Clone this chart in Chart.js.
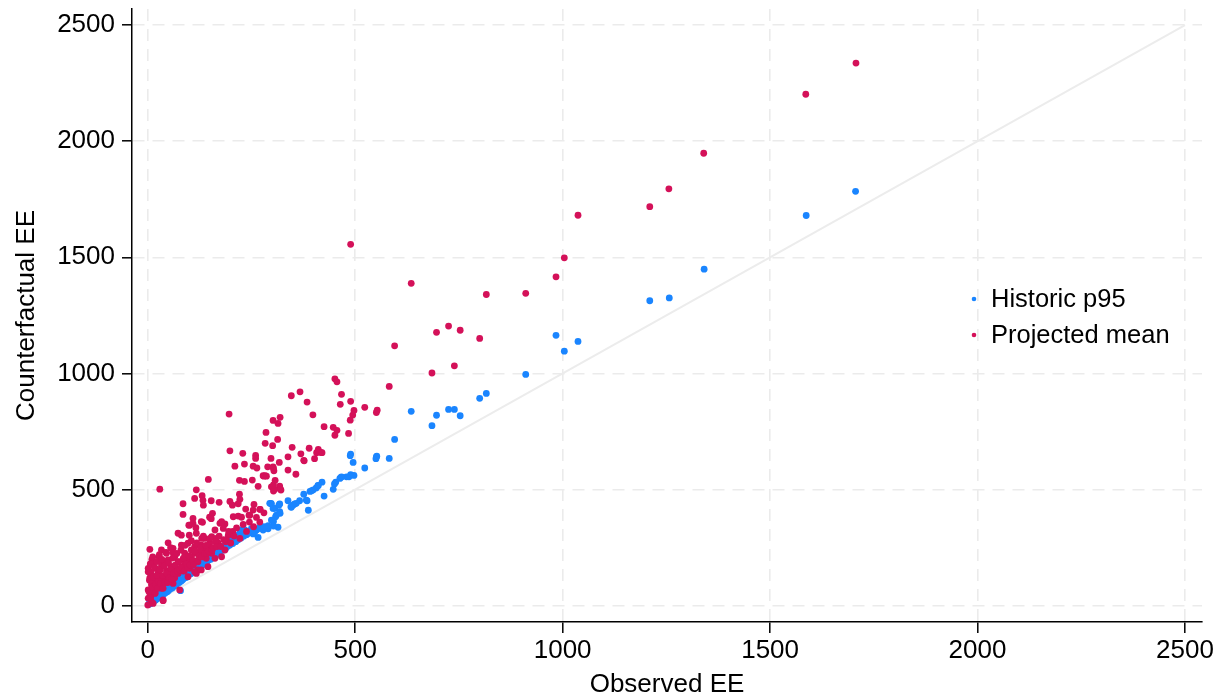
<!DOCTYPE html>
<html lang="en">
<head>
    <meta charset="UTF-8">
    <title>Counterfactual EE vs Observed EE</title>
    <style>
        html, body { margin: 0; padding: 0; background: #fff; }
        .chart-box { width: 1226px; height: 700px; }
    </style>
</head>
<body>

<div class="chart-box">
    <canvas id="eeChart" width="1226" height="700"></canvas>
</div>

<script src="https://cdn.jsdelivr.net/npm/chart.js@4/dist/chart.umd.min.js"></script>
<script>
    // ticks (same on both axes)
    const axisTicks = [0, 500, 1000, 1500, 2000, 2500];
    const seriesNames = ['Historic p95', 'Projected mean'];

    // Historic p95 : observed EE (x) / counterfactual EE (y)
    const histX = [1706, 1587, 1341, 1257, 1210, 1037, 984, 1004, 911, 816, 800, 753, 739, 725, 696, 685, 635, 595, 582, 552,
        550, 523, 495, 489, 488, 485, 489, 497, 466, 453, 450, 447, 425, 420, 410, 406, 399, 391, 384, 387,
        376, 366, 354, 346, 319, 308, 303, 297, 314, 303, 290, 278, 258, 254, 266, 463, 411, 395, 382, 358,
        350, 338, 345, 298, 306, 316, 310, 270, 286, 551, 479, 467, 318, 298, 318, 294, 302, 262, 246, 234,
        222, 214, 250, 234, 218, 202, 186, 170, 157, 141, 129, 117, 105, 89, 73, 61, 49, 37, 25, 13,
        5, 226, 210, 194, 178, 162, 149, 133, 121, 109, 97, 85, 69, 57, 45, 33, 21, 79, 2, 8,
        15, 28, 40, 52, 65, 92, 113, 137, 165, 190, 240,
        4, 7, 10, 12, 16, 19, 23, 26, 30, 34, 38, 42, 47, 50, 54, 59, 63, 67, 71, 76,
        81, 84, 88, 93, 96, 100, 104, 108, 112, 116, 120, 125, 128, 133, 138, 142, 146, 152, 155, 160,
        166, 172, 176, 182, 188, 193, 198, 205, 212, 218, 225, 232, 238, 245, 252, 258, 264, 272, 280, 290];
    const histY = [1784, 1680, 1449, 1325, 1313, 1138, 1164, 1096, 996, 914, 893, 818, 845, 845, 820, 775, 837, 716, 634, 644,
        633, 593, 617, 653, 646, 555, 564, 561, 553, 532, 524, 501, 472, 532, 517, 507, 499, 492, 452, 411,
        480, 452, 438, 424, 398, 383, 363, 441, 338, 343, 331, 326, 326, 309, 294, 548, 518, 495, 455, 441,
        433, 452, 426, 438, 419, 433, 390, 338, 336, 641, 555, 555, 405, 369, 438, 441, 419, 326, 319, 326,
        312, 297, 333, 319, 297, 283, 261, 247, 240, 226, 204, 189, 175, 154, 132, 111, 96, 82, 60, 39,
        17, 326, 304, 290, 254, 232, 218, 197, 183, 168, 154, 139, 118, 103, 89, 68, 50, 65, 5, 12,
        28, 45, 62, 80, 98, 140, 172, 208, 240, 270, 310,
        8, 10, 14, 18, 22, 25, 30, 36, 40, 44, 50, 55, 60, 66, 72, 76, 84, 88, 95, 100,
        106, 112, 118, 122, 130, 134, 138, 146, 150, 156, 160, 165, 172, 176, 184, 188, 196, 200, 210, 214,
        220, 226, 236, 240, 248, 256, 262, 268, 276, 284, 292, 300, 306, 314, 320, 318, 330, 334, 340, 345];

    // Projected mean : observed EE (x) / counterfactual EE (y)
    const projX = [1707, 1586, 1340, 1256, 1210, 1037, 1004, 984, 911, 816, 800, 753, 739, 725, 696, 685, 635, 595, 582, 489,
        523, 551, 553, 497, 494, 488, 484, 489, 467, 464, 451, 456, 447, 456, 451, 425, 398, 384, 367, 346,
        319, 302, 314, 285, 313, 283, 301, 348, 389, 411, 417, 407, 402, 377, 369, 357, 338, 338, 317, 260,
        260, 254, 297, 302, 303, 289, 283, 278, 266, 252, 298, 303, 318, 321, 256, 270, 254, 244, 196, 198,
        229, 210, 233, 263, 304, 376, 420, 146, 221, 233, 280, 286, 307, 306, 320, 303, 117, 113, 131, 133,
        134, 153, 172, 198, 204, 221, 222, 218, 85, 85, 109, 101, 116, 132, 149, 156, 153, 174, 186, 206,
        218, 226, 236, 246, 271, 29, 99, 109, 129, 178, 162, 182, 194, 154, 137, 117, 100, 73, 81, 49,
        61, 81, 97, 113, 129, 149, 170, 186, 154, 137, 113, 89, 65, 45, 33, 5, 27, 49, 73, 97,
        121, 141, 162, 178, 145, 121, 101, 81, 57, 33, 13, 1, 1, 25, 49, 73, 97, 129, 17, 41,
        61, 9, 33, 1, 17, 1, 9, 37, 0, 77, 117, 113, 13, 37, 5, 10, 20, 40, 60, 85,
        105, 125, 150, 165, 190, 205, 20, 30, 55, 70, 90, 15, 25, 5, 10, 45, 65, 85, 105, 130,
        3, 4, 6, 7, 8, 10, 12, 12, 14, 16, 18, 19, 22, 23, 24, 26, 28, 30, 31, 34,
        36, 37, 40, 42, 44, 46, 48, 50, 52, 55, 56, 58, 60, 63, 66, 68, 70, 72, 75, 78,
        80, 83, 86, 88, 90, 93, 96, 99, 102, 105, 108, 110, 114, 118, 120, 124, 127, 130, 134, 137,
        140, 143, 146, 150, 155, 158, 163, 167, 172, 176, 183, 188, 195, 200, 208, 214, 222, 230, 238, 245,
        255, 262, 270, 280];
    const projY = [2336, 2202, 1948, 1795, 1718, 1681, 1498, 1416, 1345, 1340, 1151, 1186, 1033, 1204, 1177, 1002, 1388, 1119, 944, 1556,
        854, 832, 842, 841, 821, 799, 742, 880, 910, 867, 977, 964, 768, 755, 734, 771, 822, 877, 921, 904,
        811, 798, 785, 746, 716, 699, 689, 682, 678, 673, 660, 659, 633, 624, 654, 566, 641, 584, 617, 647,
        634, 601, 634, 598, 591, 598, 560, 560, 514, 541, 512, 494, 515, 498, 436, 415, 412, 390, 825, 667,
        656, 601, 610, 593, 581, 626, 659, 544, 540, 535, 558, 558, 540, 501, 501, 520, 499, 462, 474, 454,
        433, 452, 445, 449, 433, 480, 458, 439, 439, 393, 376, 347, 336, 359, 381, 398, 375, 355, 352, 383,
        386, 381, 416, 390, 415, 502, 347, 355, 362, 362, 326, 333, 304, 297, 290, 312, 304, 312, 304, 271,
        247, 261, 269, 254, 261, 269, 269, 240, 226, 240, 226, 226, 211, 226, 240, 243, 211, 197, 189, 197,
        189, 204, 204, 211, 168, 154, 161, 168, 168, 175, 183, 161, 146, 139, 132, 139, 125, 154, 111, 111,
        96, 89, 75, 68, 53, 32, 17, 22, 3, 68, 139, 146, 10, 25, 120, 200, 160, 190, 230, 200,
        240, 230, 250, 290, 280, 320, 95, 120, 140, 160, 180, 60, 80, 40, 130, 150, 120, 150, 210, 290,
        60, 110, 180, 35, 145, 95, 80, 210, 125, 165, 55, 90, 190, 130, 75, 105, 220, 155, 95, 200,
        130, 75, 170, 100, 230, 140, 100, 185, 120, 250, 160, 115, 205, 140, 175, 140, 225, 150, 190, 155,
        240, 165, 205, 150, 260, 180, 165, 215, 175, 280, 195, 175, 235, 270, 195, 215, 250, 210, 300, 225,
        260, 225, 235, 290, 240, 250, 275, 255, 300, 255, 285, 275, 320, 270, 300, 335, 290, 350, 320, 360,
        340, 380, 360, 400];

    // 45 degree reference line
    const refX = [0, 2500];
    const refY = [0, 2500];

    const BLUE = '#1a85ff';
    const RED = '#d41159';
    const FONT = '"Liberation Sans", Arial, Helvetica, sans-serif';

    function toPoints(xs, ys) {
        return xs.map((x, i) => ({ x: x, y: ys[i] }));
    }

    // legend drawn inside the plot, right side
    const insideLegend = {
        id: 'insideLegend',
        afterDraw(chart) {
            const ctx = chart.ctx;
            const items = [
                { label: seriesNames[0], color: BLUE, y: 299 },
                { label: seriesNames[1], color: RED, y: 335 },
            ];
            ctx.save();
            ctx.font = '25.5px ' + FONT;
            ctx.textBaseline = 'middle';
            ctx.textAlign = 'left';
            for (const it of items) {
                ctx.fillStyle = it.color;
                ctx.beginPath();
                ctx.arc(974, it.y, 2.3, 0, Math.PI * 2);
                ctx.fill();
                ctx.fillStyle = '#000';
                ctx.fillText(it.label, 991, it.y + 1);
            }
            ctx.restore();
        }
    };

    const gridOpts = {
        color: '#ebebeb',
        lineWidth: 1.6,
        tickColor: '#000',
        tickWidth: 1.5,
        tickLength: 10,
        tickBorderDash: [],
    };
    const borderOpts = { display: true, color: '#000', width: 1.5, dash: [12, 8] };

    new Chart(document.getElementById('eeChart'), {
        type: 'scatter',
        data: {
            datasets: [
                {
                    label: seriesNames[1],
                    data: toPoints(projX, projY),
                    backgroundColor: RED,
                    borderWidth: 0,
                    pointRadius: 3.4,
                    order: 0,
                },
                {
                    label: seriesNames[0],
                    data: toPoints(histX, histY),
                    backgroundColor: BLUE,
                    borderWidth: 0,
                    pointRadius: 3.4,
                    order: 1,
                },
                {
                    label: 'ref',
                    data: toPoints(refX, refY),
                    showLine: true,
                    borderColor: '#ececec',
                    borderWidth: 2,
                    pointRadius: 0,
                    order: 2,
                },
            ],
        },
        options: {
            responsive: false,
            animation: false,
            layout: { padding: { left: 0, top: 9, right: 24, bottom: 0 } },
            plugins: {
                legend: { display: false },
                tooltip: { enabled: false },
            },
            scales: {
                x: {
                    type: 'linear',
                    min: -38,
                    max: 2541,
                    afterBuildTicks: s => { s.ticks = axisTicks.map(v => ({ value: v })); },
                    afterFit: s => { s.height = 78; s.paddingLeft = 0; s.paddingRight = 0; },
                    ticks: {
                        color: '#000',
                        font: { size: 26, family: FONT },
                        padding: 2,
                        maxRotation: 0,
                        callback: v => String(v),
                    },
                    grid: Object.assign({}, gridOpts, { tickLength: 11 }),
                    border: borderOpts,
                    title: {
                        display: true,
                        text: 'Observed EE',
                        color: '#000',
                        font: { size: 26, family: FONT },
                        padding: { top: 0, bottom: 0 },
                    },
                },
                y: {
                    type: 'linear',
                    min: -70,
                    max: 2569,
                    afterBuildTicks: s => { s.ticks = axisTicks.map(v => ({ value: v })); },
                    afterFit: s => { s.width = 132; s.paddingTop = 0; s.paddingBottom = 0; },
                    ticks: {
                        color: '#000',
                        font: { size: 26, family: FONT },
                        padding: 7,
                        callback: v => String(v),
                    },
                    grid: gridOpts,
                    border: borderOpts,
                    title: {
                        display: true,
                        text: 'Counterfactual EE',
                        color: '#000',
                        font: { size: 26, family: FONT },
                        padding: { top: 11, bottom: 0 },
                    },
                },
            },
        },
        plugins: [insideLegend],
    });
</script>
</body>
</html>
